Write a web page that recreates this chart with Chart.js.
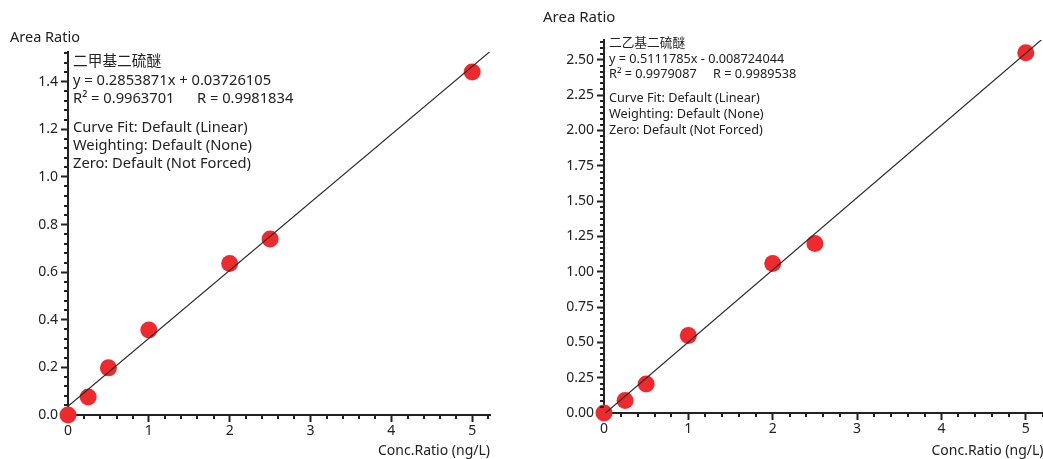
<!DOCTYPE html>
<html lang="zh">
<head>
<meta charset="UTF-8" />
<title>Calibration curves</title>
<script src="https://cdn.jsdelivr.net/npm/chart.js"></script>
<style>
  html, body { margin: 0; padding: 0; background: #fff; overflow: hidden; width: 1043px; height: 459px; }
  .box { position: absolute; top: 0; height: 459px; }
  #leftBox { left: 0; width: 520px; }
  #rightBox { left: 523px; width: 529px; }
</style>
</head>
<body>
<div class="box" id="leftBox"><canvas id="leftChart" width="520" height="459"></canvas></div>
<div class="box" id="rightBox"><canvas id="rightChart" width="529" height="459"></canvas></div>
<script>
  // concentrations (ng/L), same for both compounds
  const conc = [0, 0.25, 0.5, 1, 2, 2.5, 5];

  // 二甲基二硫醚 area ratios
  const areaDMDS = [0.0, 0.076, 0.198, 0.357, 0.636, 0.739, 1.441];
  // 二乙基二硫醚 area ratios
  const areaDEDS = [0.0, 0.088, 0.205, 0.548, 1.058, 1.2, 2.55];

  // fitted line end points as drawn
  const fitX1 = [0, 5.22];
  const fitY1 = [0.037, 1.527];
  const fitX2 = [0, 5.21];
  const fitY2 = [-0.009, 2.654];

  // tick labels
  const xTicks = [0, 1, 2, 3, 4, 5];
  const yTicks1 = [0, 0.2, 0.4, 0.6, 0.8, 1.0, 1.2, 1.4];
  const yTicks2 = [0, 0.25, 0.5, 0.75, 1.0, 1.25, 1.5, 1.75, 2.0, 2.25, 2.5];

  const notes1 = ['二甲基二硫醚', 'y = 0.2853871x + 0.03726105', 'R² = 0.9963701', 'R = 0.9981834',
    'Curve Fit: Default (Linear)', 'Weighting: Default (None)', 'Zero: Default (Not Forced)'];
  const notes2 = ['二乙基二硫醚', 'y = 0.5111785x - 0.008724044', 'R² = 0.9979087', 'R = 0.9989538',
    'Curve Fit: Default (Linear)', 'Weighting: Default (None)', 'Zero: Default (Not Forced)'];

  const FONT = '"Noto Sans", "Noto Sans CJK SC", sans-serif';
  const INK = '#222';
  const RED = '#EE2A2F';

  Chart.defaults.font.family = FONT;
  Chart.defaults.color = INK;

  // short unlabelled ticks between the major ones
  const minorTicks = {
    id: 'minorTicks',
    afterDraw(chart, args, opts) {
      const ctx = chart.ctx;
      ctx.save();
      ctx.strokeStyle = INK;
      ctx.lineWidth = 2;
      ['x', 'y'].forEach(id => {
        const s = chart.scales[id];
        const major = id === 'x' ? xTicks : opts.yMajor;
        const divs = opts[id];
        const step = (major[1] - major[0]) / divs;
        for (let i = 0; ; i++) {
          const v = i * step;
          if (v > s.max + 1e-9) break;
          if (i % divs === 0) continue;
          const p = Math.round(s.getPixelForValue(v));
          ctx.beginPath();
          if (id === 'x') {
            ctx.moveTo(p, chart.chartArea.bottom);
            ctx.lineTo(p, chart.chartArea.bottom + 4);
          } else {
            ctx.moveTo(chart.chartArea.left, p);
            ctx.lineTo(chart.chartArea.left - 4, p);
          }
          ctx.stroke();
        }
      });
      ctx.restore();
    }
  };

  // axis caption and fit report text
  const notes = {
    id: 'notes',
    afterDraw(chart, args, opts) {
      const ctx = chart.ctx;
      const a = chart.chartArea;
      ctx.save();
      ctx.fillStyle = INK;
      ctx.textBaseline = 'middle';
      ctx.textAlign = 'left';
      ctx.font = opts.capSize + 'px ' + FONT;
      ctx.fillText('Area Ratio', opts.caption[0], opts.caption[1]);
      ctx.font = opts.size + 'px ' + FONT;
      const t = opts.text, y = opts.rows, x = a.left + opts.dx;
      ctx.fillText(t[0], x, y[0]);
      ctx.fillText(t[1], x, y[1]);
      ctx.fillText(t[2], x, y[2]);
      ctx.fillText(t[3], x + opts.rx, y[2]);
      ctx.fillText(t[4], x, y[3]);
      ctx.fillText(t[5], x, y[4]);
      ctx.fillText(t[6], x, y[5]);
      ctx.restore();
    }
  };

  function makeChart(id, area, fx, fy, yMajor, yMax, xMax, decimals, layout, noteOpts, yDivs) {
    return new Chart(document.getElementById(id), {
      type: 'scatter',
      data: {
        datasets: [
          {
            type: 'line',
            data: fx.map((x, i) => ({ x, y: fy[i] })),
            borderColor: '#2a2a2a',
            borderWidth: 1.2,
            pointRadius: 0,
            fill: false,
            order: 0
          },
          {
            data: conc.map((x, i) => ({ x, y: area[i] })),
            backgroundColor: RED,
            borderWidth: 0,
            pointRadius: 8.5,
            pointHoverRadius: 8.5,
            clip: false,
            order: 1
          }
        ]
      },
      options: {
        responsive: false,
        animation: false,
        devicePixelRatio: 1,
        layout: { padding: layout.padding },
        plugins: {
          legend: { display: false },
          tooltip: { enabled: false },
          minorTicks: { x: 5, y: yDivs, yMajor },
          notes: noteOpts
        },
        scales: {
          x: {
            type: 'linear',
            min: 0,
            max: xMax,
            grid: { drawOnChartArea: false, tickLength: 7, tickWidth: 2, tickColor: INK },
            border: { color: INK, width: 2 },
            ticks: { font: { size: 14 }, color: INK, padding: 1, callback: v => String(v) },
            afterBuildTicks: s => { s.ticks = xTicks.map(value => ({ value })); },
            afterFit: s => { s.height = layout.xHeight; },
            title: { display: true, text: 'Conc.Ratio (ng/L)', align: 'end', font: { size: 14 }, color: INK, padding: 0 }
          },
          y: {
            type: 'linear',
            min: 0,
            max: yMax,
            grid: { drawOnChartArea: false, tickLength: 7, tickWidth: 2, tickColor: INK },
            border: { color: INK, width: 2 },
            ticks: { font: { size: 14 }, color: INK, padding: 3, callback: v => Number(v).toFixed(decimals) },
            afterBuildTicks: s => { s.ticks = yMajor.map(value => ({ value })); },
            afterFit: s => { s.width = layout.yWidth; }
          }
        }
      },
      plugins: [minorTicks, notes]
    });
  }

  makeChart('leftChart', areaDMDS, fitX1, fitY1, yTicks1, 1.525, 5.22, 1,
    { padding: { top: 52, right: 30, left: 0, bottom: 0 }, yWidth: 68, xHeight: 44 },
    { caption: [10, 38], capSize: 14.5, size: 14.7, text: notes1, dx: 5, rx: 124, rows: [62, 81, 99, 127.5, 146, 164] }, 5);

  makeChart('rightChart', areaDEDS, fitX2, fitY2, yTicks2, 2.64, 5.21, 2,
    { padding: { top: 40, right: 0, left: 0, bottom: 0 }, yWidth: 81, xHeight: 46 },
    { caption: [20, 18], capSize: 15, size: 12.7, text: notes2, dx: 5, rx: 104, rows: [43, 59, 74, 98, 114, 130] }, 6);
</script>
</body>
</html>
